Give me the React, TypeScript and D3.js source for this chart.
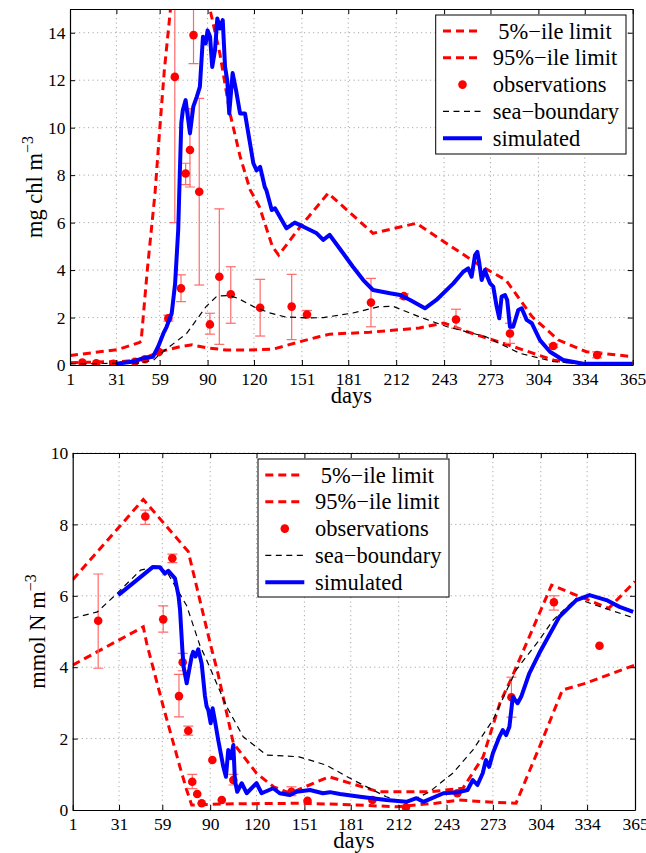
import React, { useRef, useEffect } from 'react';
import * as d3 from 'd3';

type Pt = [number, number];
type Obs = [number, number, number?, number?];

const dayTicks = [1, 31, 59, 90, 120, 151, 181, 212, 243, 273, 304, 334, 365];
const legendLabels = [' 5%−ile limit', '95%−ile limit', 'observations', 'sea−boundary', 'simulated'];

// --- chlorophyll (top panel)
const chlTicks = [0, 2, 4, 6, 8, 10, 12, 14];
const chlUpper: Pt[] = [
  [1, 0.4], [32, 0.65], [46, 0.95], [47, 1.0], [51, 4.0], [56, 7.24], [59, 9.9], [62, 12.4], [66, 15.0],
  [78, 20], [91.5, 15], [98, 13.1], [104.5, 10.6], [111, 8.8], [117.4, 7.4], [123.5, 6.67], [132, 4.98],
  [136, 4.63], [150, 5.83], [168, 7.24], [197, 5.55], [225, 5.97], [266, 4.2], [283, 3.58], [300, 2.03],
  [317, 1.05], [335, 0.56], [365, 0.35],
];
const chlLower: Pt[] = [
  [1, 0.1], [35, 0.15], [46, 0.21], [59, 0.56], [72, 0.77], [80, 0.85], [89, 0.73], [102, 0.63], [117, 0.63],
  [132.5, 0.67], [149, 0.97], [162, 1.19], [169, 1.3], [195, 1.38], [227, 1.56], [243, 1.77], [258, 1.4],
  [288, 0.77], [314, 0.2], [330, 0.07], [365, 0.05],
];
const chlSea: Pt[] = [
  [1, 0.05], [45, 0.08], [55, 0.2], [59, 0.45], [76.5, 1.33], [89, 2.46], [96, 2.9], [104, 2.93], [110, 2.8],
  [120, 2.45], [130, 2.2], [140, 2.03], [155, 1.98], [165, 2.0], [184, 2.19], [201, 2.46], [210, 2.47],
  [227, 2.03], [245, 1.61], [270, 1.19], [292, 0.49], [314, 0.14], [335, 0.05], [365, 0.05],
];
const chlSim: Pt[] = [
  [31, 0.05], [42, 0.15], [48, 0.28], [54.7, 0.35], [58, 0.77], [61.4, 1.33], [63.5, 1.61], [66.8, 2.18],
  [69, 3.44], [71, 5.69], [72, 8.0], [73, 10.2], [74, 10.74], [75.8, 11.16], [78.6, 9.76], [80.8, 10.9],
  [83, 11.3], [85, 11.72], [87, 13.83], [88.8, 13.55], [90, 14.1], [91.6, 13.83], [93, 12.56], [94.8, 13.27],
  [96.3, 14.6], [98, 14.18], [99.8, 14.53], [101.3, 12.56], [102.7, 12.0], [104, 10.6], [106.2, 12.3],
  [108.4, 11.58], [111, 10.6], [114.2, 10.6], [119.6, 8.5], [121.7, 8.2], [124, 8.35], [127, 7.5], [128, 7.37],
  [131.5, 6.53], [133.6, 6.6], [141, 5.76], [146.4, 6.0], [154, 5.76], [160.6, 5.55], [164.8, 5.27], [169, 5.48],
  [177.8, 4.7], [184, 4.14], [190.7, 3.58], [197, 3.16], [208, 3.02], [214.5, 2.95], [221, 2.74], [230.6, 2.39],
  [238, 2.74], [249, 3.44], [255.4, 3.93], [258.6, 4.07], [260.8, 3.72], [263, 4.63], [264.5, 4.77],
  [265.8, 4.28], [267.3, 3.58], [269.4, 4.0], [270.5, 3.79], [272.7, 3.44], [274.8, 3.3], [277, 2.46],
  [278.7, 1.97], [280.2, 2.88], [282.4, 2.95], [283.8, 2.74], [285.6, 1.61], [287.7, 1.61], [291, 2.32],
  [293.2, 2.39], [296.4, 1.9], [299.7, 1.76], [305, 1.05], [311.5, 0.56], [320, 0.21], [333, 0.05], [365, 0.05],
];
const chlObs: Obs[] = [
  [9, 0.1], [18, 0.07], [29, 0.05], [43, 0.14], [49.5, 0.24], [58.5, 0.55], [64.6, 1.97, 1.85, 2.1],
  [68.8, 12.14, 6.0, 18], [72.8, 3.23, 2.67, 3.8], [75.8, 8.07, 7.6, 8.5], [78.6, 9.06, 7.5, 10.8],
  [80.9, 13.9, 12.7, 16], [84.6, 7.3, 3.37, 11.23], [91.5, 1.71, 1.3, 2.18], [97.6, 3.72, 0.87, 6.58],
  [105, 2.98, 1.76, 4.14], [124, 2.41, 1.22, 3.61], [144.4, 2.46, 1.07, 3.82], [154.3, 2.13, 2.0, 2.3],
  [195.7, 2.63, 1.61, 3.65], [217, 2.9, 2.8, 3.0], [250.7, 1.92, 1.55, 2.35], [285.6, 1.33, 0.91, 1.76],
  [313.6, 0.8, 0.74, 0.88], [342, 0.42, 0.3, 0.55],
];

// --- nitrogen (bottom panel)
const nitTicks = [0, 2, 4, 6, 8, 10];
const nitUpper: Pt[] = [
  [1, 6.45], [46.7, 8.7], [75.8, 7.24], [90, 4.67], [95, 3.83], [105, 1.87], [120, 1.03], [131, 0.65],
  [141.6, 0.47], [167, 0.93], [199, 0.51], [232, 0.51], [253.6, 0.61], [266.7, 1.49], [277.5, 2.99],
  [284.5, 3.64], [311, 6.3], [348, 5.65], [365, 6.4],
];
const nitLower: Pt[] = [
  [1, 4.06], [46.7, 5.13], [48.9, 4.67], [59.6, 2.9], [70.4, 1.21], [74.8, 0.56], [78, 0.14], [100, 0.17],
  [150, 0.19], [180, 0.15], [210.6, 0.09], [236, 0.19], [251, 0.28], [268, 0.23], [288, 0.19], [305, 1.96],
  [318, 3.36], [333, 3.55], [365, 4.06],
];
const nitSea: Pt[] = [
  [1, 5.37], [17, 5.55], [29.5, 6.06], [45, 6.72], [54, 6.81], [59.6, 6.72], [61.8, 6.68], [74.8, 5.72],
  [83.4, 4.6], [87.7, 4.2], [100.6, 2.9], [111.4, 2.05], [126.5, 1.54], [147.5, 1.49], [165, 1.26],
  [182.6, 0.84], [204, 0.37], [217, 0.19], [232, 0.51], [247, 1.03], [260, 1.68], [273, 2.52], [288, 3.92],
  [303, 4.76], [312, 5.32], [327, 5.93], [342, 5.7], [365, 5.37],
];
const nitSim: Pt[] = [
  [30.5, 6.02], [53, 6.81], [57.5, 6.8], [60.6, 6.62], [62.9, 6.7], [67.2, 6.49], [69.5, 6.0], [70.5, 5.6],
  [72, 4.48], [72.8, 4.01], [74.8, 3.55], [78, 4.3], [79, 4.43], [80.5, 4.3], [82.3, 4.5], [84.5, 4.1],
  [86.6, 3.2], [87.7, 2.9], [88.8, 2.8], [90.3, 2.43], [91.6, 2.85], [93, 2.52], [95.2, 1.96], [98.5, 1.21],
  [100.2, 0.93], [101.7, 1.68], [103.3, 1.45], [105, 1.82], [106, 0.84], [107.5, 0.51], [110.4, 0.75],
  [113.6, 0.47], [120, 0.75], [123.3, 0.47], [130.8, 0.61], [135, 0.47], [141.6, 0.42], [146, 0.51],
  [154.6, 0.56], [163, 0.47], [167.5, 0.5], [174, 0.45], [187, 0.37], [204, 0.28], [217, 0.23], [223.5, 0.33],
  [228, 0.23], [241, 0.47], [251, 0.5], [256.6, 0.56], [260, 0.84], [263, 0.7], [266.4, 1.03], [268.5, 1.4],
  [270.6, 1.21], [273, 1.59], [277.2, 2.05], [279.4, 2.24], [281.6, 2.1], [283.7, 2.33], [285.9, 3.17],
  [289, 2.99], [291.3, 3.17], [296.6, 3.83], [303, 4.39], [309.5, 4.9], [316, 5.41], [327, 5.88],
  [335.6, 6.02], [346.5, 5.88], [355, 5.69], [363.8, 5.55],
];
const nitObs: Obs[] = [
  [17.5, 5.3, 3.97, 6.61], [48, 8.22, 8.0, 8.4], [59.6, 5.34, 4.98, 5.72], [65.5, 7.05, 6.93, 7.17],
  [69.8, 3.19, 2.61, 3.8], [72.2, 4.14, 3.9, 4.39], [75.8, 2.22, 2.1, 2.35], [78.4, 0.79, 0.6, 1.0],
  [81.6, 0.45], [84.5, 0.19], [91.4, 1.4], [97.5, 0.28], [105, 0.84, 0.7, 1.0], [142.6, 0.51, 0.4, 0.65],
  [153, 0.26], [195, 0.28], [216.7, 0.07], [250, 0.47], [285, 3.16, 2.6, 3.72], [312.5, 5.82, 5.6, 6.0],
  [342, 4.6],
];

const panels = [
  {
    id: 'chl', left: 70, right: 632.7, top: 9, bottom: 365, yMax: 15, yTicks: chlTicks,
    yLabel: 'mg chl m', upper: chlUpper, lower: chlLower, sea: chlSea, sim: chlSim, obs: chlObs,
    legend: { x: 435.7, y: 15, w: 190.3, h: 139 },
  },
  {
    id: 'nit', left: 72.7, right: 635, top: 453, bottom: 810, yMax: 10, yTicks: nitTicks,
    yLabel: 'mmol N m', upper: nitUpper, lower: nitLower, sea: nitSea, sim: nitSim, obs: nitObs,
    legend: { x: 258, y: 459, w: 191, h: 138 },
  },
];

const FONT = '"Liberation Serif", "Times New Roman", serif';
const RED = '#ff0000';
const BLUE = '#0000ff';

function drawPanel(svg: any, p: any) {
  const x = d3.scaleLinear().domain([1, 365]).range([p.left, p.right]);
  const y = d3.scaleLinear().domain([0, p.yMax]).range([p.bottom, p.top]);
  const g = svg.append('g');

  // dotted grid
  g.selectAll('.vgrid').data(dayTicks.slice(1, -1)).join('line')
    .attr('x1', (d: number) => x(d)).attr('x2', (d: number) => x(d))
    .attr('y1', p.top).attr('y2', p.bottom)
    .attr('stroke', '#a8a8a8').attr('stroke-width', 1).attr('stroke-dasharray', '1.2,3.3');
  g.selectAll('.hgrid').data(p.yTicks.slice(1)).join('line')
    .attr('x1', p.left).attr('x2', p.right)
    .attr('y1', (d: number) => y(d)).attr('y2', (d: number) => y(d))
    .attr('stroke', '#a8a8a8').attr('stroke-width', 1).attr('stroke-dasharray', '1.2,3.3');

  // clip to plot box
  const clipId = `clip-${p.id}`;
  svg.append('defs').append('clipPath').attr('id', clipId).append('rect')
    .attr('x', p.left).attr('y', p.top)
    .attr('width', p.right - p.left).attr('height', p.bottom - p.top);
  const plot = g.append('g').attr('clip-path', `url(#${clipId})`);

  const line = d3.line<Pt>().x(d => x(d[0])).y(d => y(d[1]));

  // percentile limits
  [p.upper, p.lower].forEach((series: Pt[]) => {
    plot.append('path').datum(series).attr('d', line)
      .attr('fill', 'none').attr('stroke', RED).attr('stroke-width', 3)
      .attr('stroke-dasharray', '8,5');
  });

  // observations with error bars
  const withErr = p.obs.filter((d: Obs) => d[2] != null);
  plot.selectAll('.err').data(withErr).join('line')
    .attr('x1', (d: Obs) => x(d[0])).attr('x2', (d: Obs) => x(d[0]))
    .attr('y1', (d: Obs) => y(d[2] as number)).attr('y2', (d: Obs) => y(d[3] as number))
    .attr('stroke', '#ff6a6a').attr('stroke-width', 1.2);
  [2, 3].forEach(k => {
    plot.selectAll(`.cap${k}`).data(withErr).join('line')
      .attr('x1', (d: Obs) => x(d[0]) - 5).attr('x2', (d: Obs) => x(d[0]) + 5)
      .attr('y1', (d: Obs) => y(d[k] as number)).attr('y2', (d: Obs) => y(d[k] as number))
      .attr('stroke', '#ff6a6a').attr('stroke-width', 1.2);
  });
  plot.selectAll('.obs').data(p.obs).join('circle')
    .attr('cx', (d: Obs) => x(d[0])).attr('cy', (d: Obs) => y(d[1]))
    .attr('r', 4.3).attr('fill', RED);

  // sea boundary
  plot.append('path').datum(p.sea).attr('d', line)
    .attr('fill', 'none').attr('stroke', '#000').attr('stroke-width', 1.2)
    .attr('stroke-dasharray', '6,4.5');

  // simulated
  plot.append('path').datum(p.sim).attr('d', line)
    .attr('fill', 'none').attr('stroke', BLUE).attr('stroke-width', 4)
    .attr('stroke-linejoin', 'round');

  // axes on all four sides, ticks pointing inwards
  const styleAxis = (a: any) => {
    a.attr('font-family', FONT).attr('font-size', 17.5);
    a.select('.domain').attr('stroke', '#000').attr('stroke-width', 1.2);
    a.selectAll('.tick line').attr('stroke', '#000');
    a.selectAll('text').attr('fill', '#000');
  };
  g.append('g').attr('transform', `translate(0,${p.bottom})`)
    .call(d3.axisBottom(x).tickValues(dayTicks).tickSizeInner(-5).tickSizeOuter(0).tickPadding(7.5))
    .call(styleAxis);
  g.append('g').attr('transform', `translate(${p.left},0)`)
    .call(d3.axisLeft(y).tickValues(p.yTicks).tickSizeInner(-5).tickSizeOuter(0).tickPadding(4.5)
      .tickFormat(d3.format('d')))
    .call(styleAxis);
  g.append('g').attr('transform', `translate(0,${p.top})`)
    .call(d3.axisTop(x).tickValues(dayTicks).tickSizeInner(-5).tickSizeOuter(0).tickFormat(() => ''))
    .call(styleAxis);
  g.append('g').attr('transform', `translate(${p.right},0)`)
    .call(d3.axisRight(y).tickValues(p.yTicks).tickSizeInner(-5).tickSizeOuter(0).tickFormat(() => ''))
    .call(styleAxis);

  // axis titles
  g.append('text')
    .attr('x', (p.left + p.right) / 2).attr('y', p.bottom + 37.5)
    .attr('text-anchor', 'middle')
    .attr('font-family', FONT).attr('font-size', 22.5)
    .text('days');
  const yl = g.append('text')
    .attr('transform', `translate(${p.left - 28},${(p.top + p.bottom) / 2}) rotate(-90)`)
    .attr('text-anchor', 'middle')
    .attr('font-family', FONT).attr('font-size', 22.5);
  yl.append('tspan').text(p.yLabel);
  yl.append('tspan').attr('dy', -9).attr('font-size', 16).text('−3');

  // legend
  const L = p.legend;
  const lg = g.append('g').attr('transform', `translate(${L.x},${L.y})`);
  lg.append('rect').attr('width', L.w).attr('height', L.h)
    .attr('fill', '#fff').attr('stroke', '#000').attr('stroke-width', 1);
  legendLabels.forEach((label, i) => {
    const cy = 16 + i * 26.8;
    if (i === 2) {
      lg.append('circle').attr('cx', 26.8).attr('cy', cy).attr('r', 4.3).attr('fill', RED);
    } else {
      const sym = lg.append('line').attr('x1', 7.3).attr('x2', 46.3).attr('y1', cy).attr('y2', cy);
      if (i < 2) sym.attr('stroke', RED).attr('stroke-width', 3).attr('stroke-dasharray', '8,5');
      if (i === 3) sym.attr('stroke', '#000').attr('stroke-width', 1.2).attr('stroke-dasharray', '6,4.5');
      if (i === 4) sym.attr('stroke', BLUE).attr('stroke-width', 4);
    }
    lg.append('text')
      .attr('x', 57).attr('y', cy + 7.5)
      .attr('xml:space', 'preserve').style('white-space', 'pre')
      .attr('font-family', FONT).attr('font-size', 22.5)
      .text(label);
  });
}

const App = () => {
  const ref = useRef<SVGSVGElement>(null);

  useEffect(() => {
    const svg = d3.select(ref.current);
    svg.selectAll('*').remove();
    panels.forEach(p => drawPanel(svg, p));
  }, []);

  return (
    <svg
      ref={ref}
      width={646}
      height={853}
      fontFamily={FONT}
      style={{ position: 'absolute', left: 0, top: 0, background: '#fff' }}
    />
  );
};

export default App;
